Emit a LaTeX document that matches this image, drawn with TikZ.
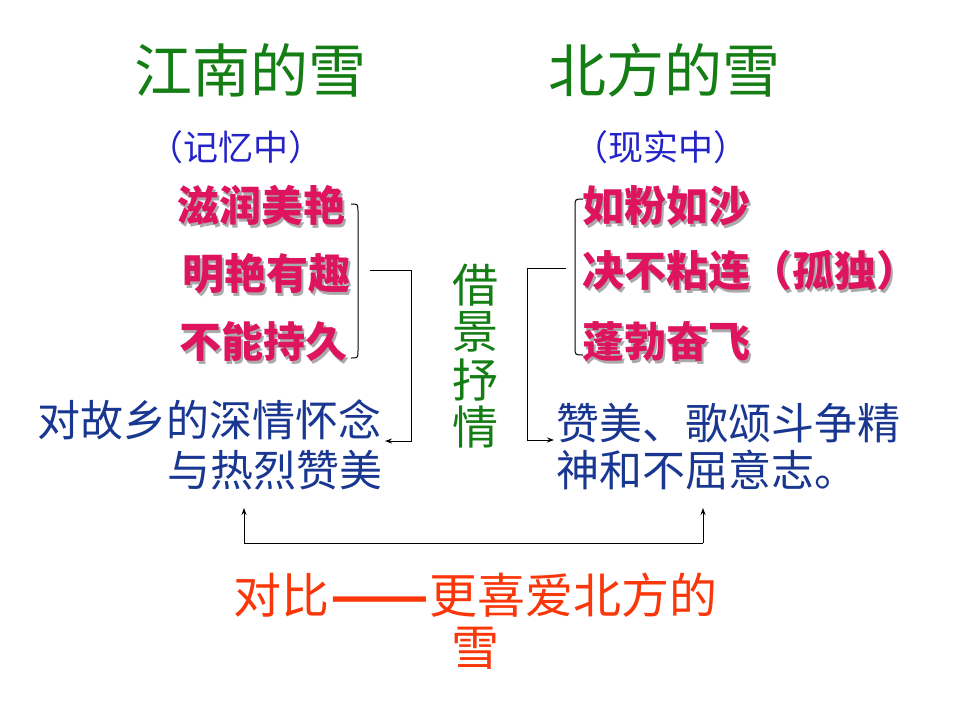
\documentclass[tikz,border=0pt]{standalone}
\usepackage{fontspec}
\usepackage{graphicx}
\newfontfamily\cjk{Noto Sans CJK SC}
\usetikzlibrary{arrows.meta}
\definecolor{tgreen}{RGB}{20,125,20}
\definecolor{pblue}{RGB}{35,35,200}
\definecolor{nblue}{RGB}{25,55,145}
\definecolor{pink}{RGB}{222,20,95}
\definecolor{shade}{RGB}{170,170,170}
\definecolor{rorange}{RGB}{250,55,10}
\newcommand\shtext[1]{\rlap{\kern2.5pt\raisebox{-2.5pt}{\color{shade}#1}}#1}
\tikzset{
  base/.style={anchor=west,inner sep=0pt,outer sep=0pt},
  titletxt/.style={base,text=tgreen,font=\cjk\fontsize{58}{62}\selectfont},
  partxt/.style={base,text=pblue,font=\cjk\fontsize{35}{38}\selectfont},
  pinktxt/.style={base,text=pink,font=\cjk\bfseries\fontsize{42}{45}\selectfont},
  bodytxt/.style={base,text=nblue,font=\cjk\fontsize{43}{47}\selectfont},
  verttxt/.style={inner sep=0pt,text=tgreen,font=\cjk\fontsize{46}{48}\selectfont},
  redtxt/.style={base,text=rorange,font=\cjk\fontsize{48}{50}\selectfont},
  conn/.style={draw=black,line width=1pt},
  arr/.style={conn,-{Stealth[length=7pt,width=5pt]}}
}
\begin{document}
\begin{tikzpicture}[x=1pt,y=-1pt]
\useasboundingbox[fill=white] (0,0) rectangle (960,720);
% titles
\node[titletxt] (t1) at (134,70) {江南的雪};
\node[titletxt] (t2) at (548,70) {北方的雪};
\node[partxt] (p1) at (148,147) {（记忆中）};
\node[partxt] (p2) at (573,147) {（现实中）};
% left pink
\node[pinktxt] (l1) at (177,207) {\shtext{滋润美艳}};
\node[pinktxt] (l2) at (182,275) {\shtext{明艳有趣}};
\node[pinktxt] (l3) at (179,343) {\shtext{不能持久}};
% right pink
\node[pinktxt] (r1) at (582,207) {\shtext{如粉如沙}};
\node[pinktxt] (r2) at (582,272) {\shtext{决不粘连（孤独）}};
\node[pinktxt] (r3) at (582,343) {\shtext{蓬勃奋飞}};
% body texts
\node[bodytxt] (b1) at (37,420) {对故乡的深情怀念};
\node[bodytxt,anchor=east] (b2) at (382,470) {与热烈赞美};
\node[bodytxt] (c1) at (556,423) {赞美、歌颂斗争精};
\node[bodytxt] (c2) at (556,470) {神和不屈意志。};
% vertical
\node[verttxt] (v1) at (475,285) {借};
\node[verttxt] (v2) at (475,332) {景};
\node[verttxt] (v3) at (475,380) {抒};
\node[verttxt] (v4) at (475,427) {情};
% bottom
\node[redtxt] (d1) at (233,595) {对比\kern1pt\scalebox{1.2}[1]{\bfseries ——}\kern1pt更喜爱北方的};
\node[redtxt,anchor=center] (d2) at (475,648) {雪};
% brackets
\coordinate (lbt) at (351,204);
\coordinate (lbb) at (351,358);
\draw[conn] (lbt) .. controls (358,204) .. (358,212) -- (358,350) .. controls (358,358) .. (lbb);
\coordinate (rbt) at (583,199);
\coordinate (rbb) at (583,355);
\draw[conn] (rbt) .. controls (575,199) .. (575,207) -- (575,347) .. controls (575,355) .. (rbb);
% connectors
\coordinate (lfrom) at (370,270);
\coordinate (lcorner) at (411,270);
\coordinate (lto) at (385,441);
\draw[arr] (lfrom) -- (lcorner) |- (lto);
\coordinate (rfrom) at (566,268);
\coordinate (rcorner) at (527,268);
\coordinate (rto) at (554,440);
\draw[arr] (rfrom) -- (rcorner) |- (rto);
\coordinate (bl) at (244,543);
\coordinate (br) at (703,543);
\coordinate (blt) at (244,508);
\coordinate (brt) at (703,508);
\draw[conn] (bl) -- (br);
\draw[arr] (bl) -- (blt);
\draw[arr] (br) -- (brt);
\end{tikzpicture}
\end{document}
